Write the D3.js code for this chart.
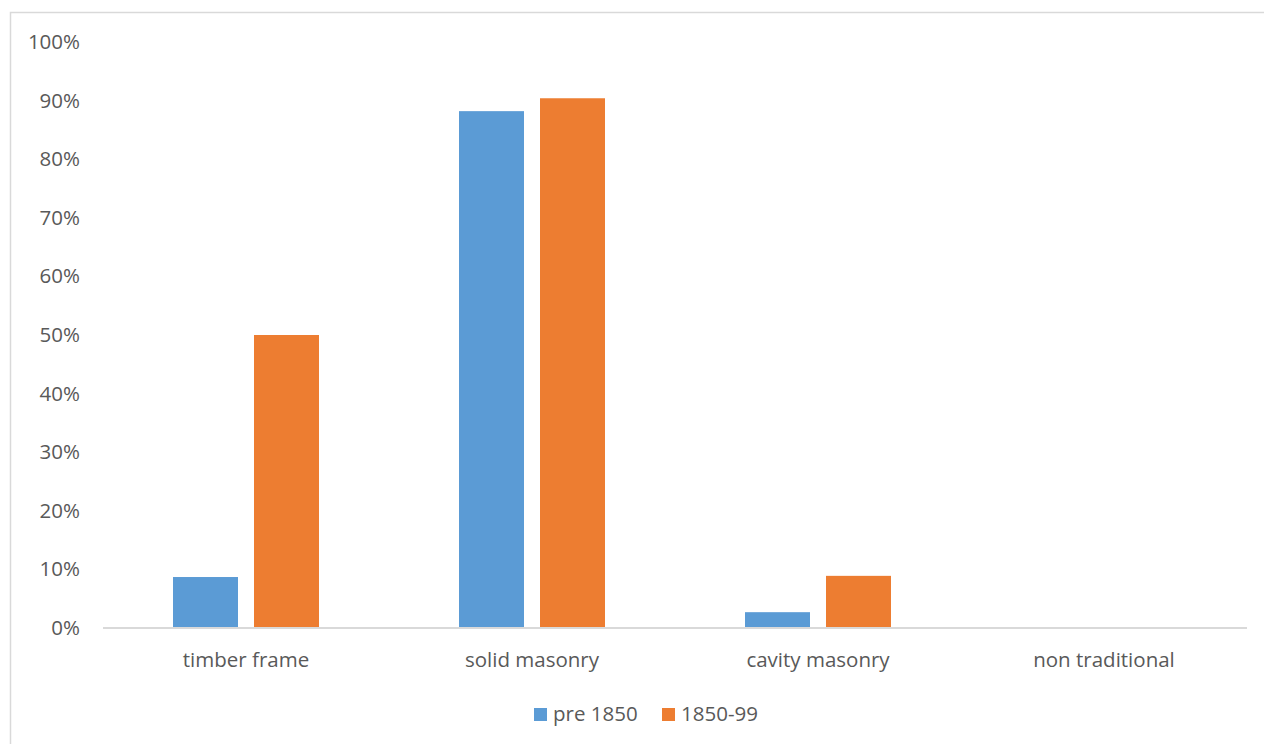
<!DOCTYPE html>
<html>
<head>
<meta charset="utf-8">
<script src="https://cdn.jsdelivr.net/npm/d3@7"></script>
<style>
  html, body { margin: 0; padding: 0; background: #fff; }
  svg { display: block; }
  text { font-family: "Open Sans", "Noto Sans", sans-serif; fill: #595959; }
</style>
</head>
<body>
<svg id="chart" width="1264" height="744"></svg>
<script>
// Wall construction share by building age
const categories = ["timber frame", "solid masonry", "cavity masonry", "non traditional"];
const seriesNames = ["pre 1850", "1850-99"];
const pre1850 = [0.087, 0.882, 0.027, 0];
const y1850to99 = [0.50, 0.904, 0.089, 0];
const yTicks = [0, 0.1, 0.2, 0.3, 0.4, 0.5, 0.6, 0.7, 0.8, 0.9, 1.0];
const colors = ["#5b9bd5", "#ed7d31"];

const svg = d3.select("#chart");
const W = 1264, H = 744;
const plot = { left: 103, right: 1247, top: 42, bottom: 628 };
const FS = "20.5px";

// outer chart frame
svg.append("rect")
  .attr("x", 10.5).attr("y", 12.5)
  .attr("width", W + 10).attr("height", H + 10)
  .attr("fill", "none").attr("stroke", "#d9d9d9").attr("stroke-width", 1.5);

const x0 = d3.scaleBand().domain(categories).range([plot.left, plot.right]);
const x1 = d3.scaleBand().domain(seriesNames)
  .range([x0.bandwidth() / 2 - 73, x0.bandwidth() / 2 + 73])
  .paddingInner(16 / 81);
const y = d3.scaleLinear().domain([0, 1]).range([plot.bottom, plot.top]);

// y axis labels
const yAxis = d3.axisLeft(y).tickValues(yTicks).tickFormat(d3.format(".0%")).tickSize(0).tickPadding(0);
const gy = svg.append("g").attr("transform", `translate(${80},0)`).call(yAxis);
gy.select(".domain").remove();
gy.selectAll("text").style("font-size", FS).attr("fill", "#595959").attr("font-family", null);

// bars
const series = [pre1850, y1850to99];
series.forEach((vals, si) => {
  svg.append("g").selectAll("rect")
    .data(categories.map((c, i) => ({ c, v: vals[i] })))
    .join("rect")
    .attr("x", d => x0(d.c) + x1(seriesNames[si]))
    .attr("width", x1.bandwidth())
    .attr("y", d => y(d.v))
    .attr("height", d => y(0) - y(d.v))
    .attr("fill", colors[si]);
});

// category axis
const xAxis = d3.axisBottom(x0).tickSize(0).tickPadding(0);
const gx = svg.append("g").attr("transform", `translate(0,${plot.bottom})`).call(xAxis);
gx.select(".domain").attr("stroke", "#d9d9d9").attr("stroke-width", 2)
  .attr("d", `M${plot.left},0H${plot.right}`);
gx.selectAll("text").style("font-size", FS).attr("fill", "#595959")
  .attr("font-family", null).attr("dy", "0").attr("y", 39);

// legend
const legend = svg.append("g");
const legendItems = [{ name: seriesNames[0], x: 534 }, { name: seriesNames[1], x: 662 }];
legendItems.forEach((it, i) => {
  legend.append("rect").attr("x", it.x).attr("y", 708).attr("width", 13).attr("height", 13).attr("fill", colors[i]);
  legend.append("text").attr("x", it.x + 19).attr("y", 721).style("font-size", FS).text(it.name);
});
</script>
</body>
</html>
